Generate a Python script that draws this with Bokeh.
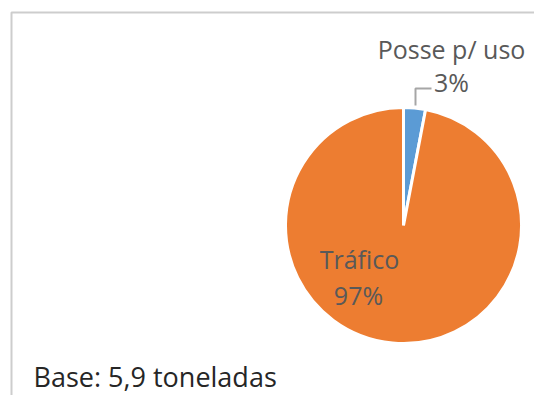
import numpy as np
from bokeh.plotting import figure
from bokeh.models import Range1d, BoxAnnotation, ColumnDataSource
from bokeh.core.properties import value
from bokeh.embed import file_html
from bokeh.resources import INLINE

categories = ["Posse p/ uso", "Tráfico"]
shares = [3, 97]
colors = ["#5B9BD5", "#ED7D31"]
note = "Base: 5,9 toneladas"

W, H = 534, 395
p = figure(width=W, height=H, output_backend="svg", toolbar_location=None,
           x_range=Range1d(0, W), y_range=Range1d(0, H), min_border=0)
p.axis.visible = False
p.grid.visible = False
p.outline_line_color = None
p.background_fill_color = "white"

def Y(sy):
    return H - sy

# chart border (left and top edges visible)
p.add_layout(BoxAnnotation(left=11, right=900, top=Y(12), bottom=-300,
                           fill_color=None, line_color="#595959", line_width=2))

cx, cy, r = 403, Y(225), 118
fr = np.array(shares, dtype=float) / sum(shares)
cum = np.concatenate([[0], np.cumsum(fr)])
a = np.pi / 2 - 2 * np.pi * cum
src = ColumnDataSource(dict(start=a[1:], end=a[:-1], color=colors, cat=categories))
p.wedge(x=cx, y=cy, radius=r, radius_units="screen", start_angle="start", end_angle="end",
        fill_color="color", line_color="white", line_width=3, source=src)

pct = [f"{round(v)}%" for v in shares]
font = value("Open Sans")
lab = dict(text_font=font, text_font_size="25px", text_color="#595959",
           text_align="center", text_baseline="middle")
# label for small slice with leader line
p.text(x=[451], y=[Y(48)], text=[categories[0]], **lab)
p.text(x=[451], y=[Y(81.5)], text=[pct[0]], **lab)
p.line(x=[415, 415, 431], y=[Y(105), Y(88), Y(88)], line_color="#A6A6A6", line_width=2)
# label inside large slice
p.text(x=[359], y=[Y(258.5)], text=[categories[1]], **lab)
p.text(x=[358], y=[Y(294)], text=[pct[1]], **lab)

p.text(x=[33], y=[Y(376)], text=[note], text_font=font, text_font_size="27px",
       text_color="#262626", text_align="left", text_baseline="middle")

open("out.html", "w").write(file_html(p, INLINE))
